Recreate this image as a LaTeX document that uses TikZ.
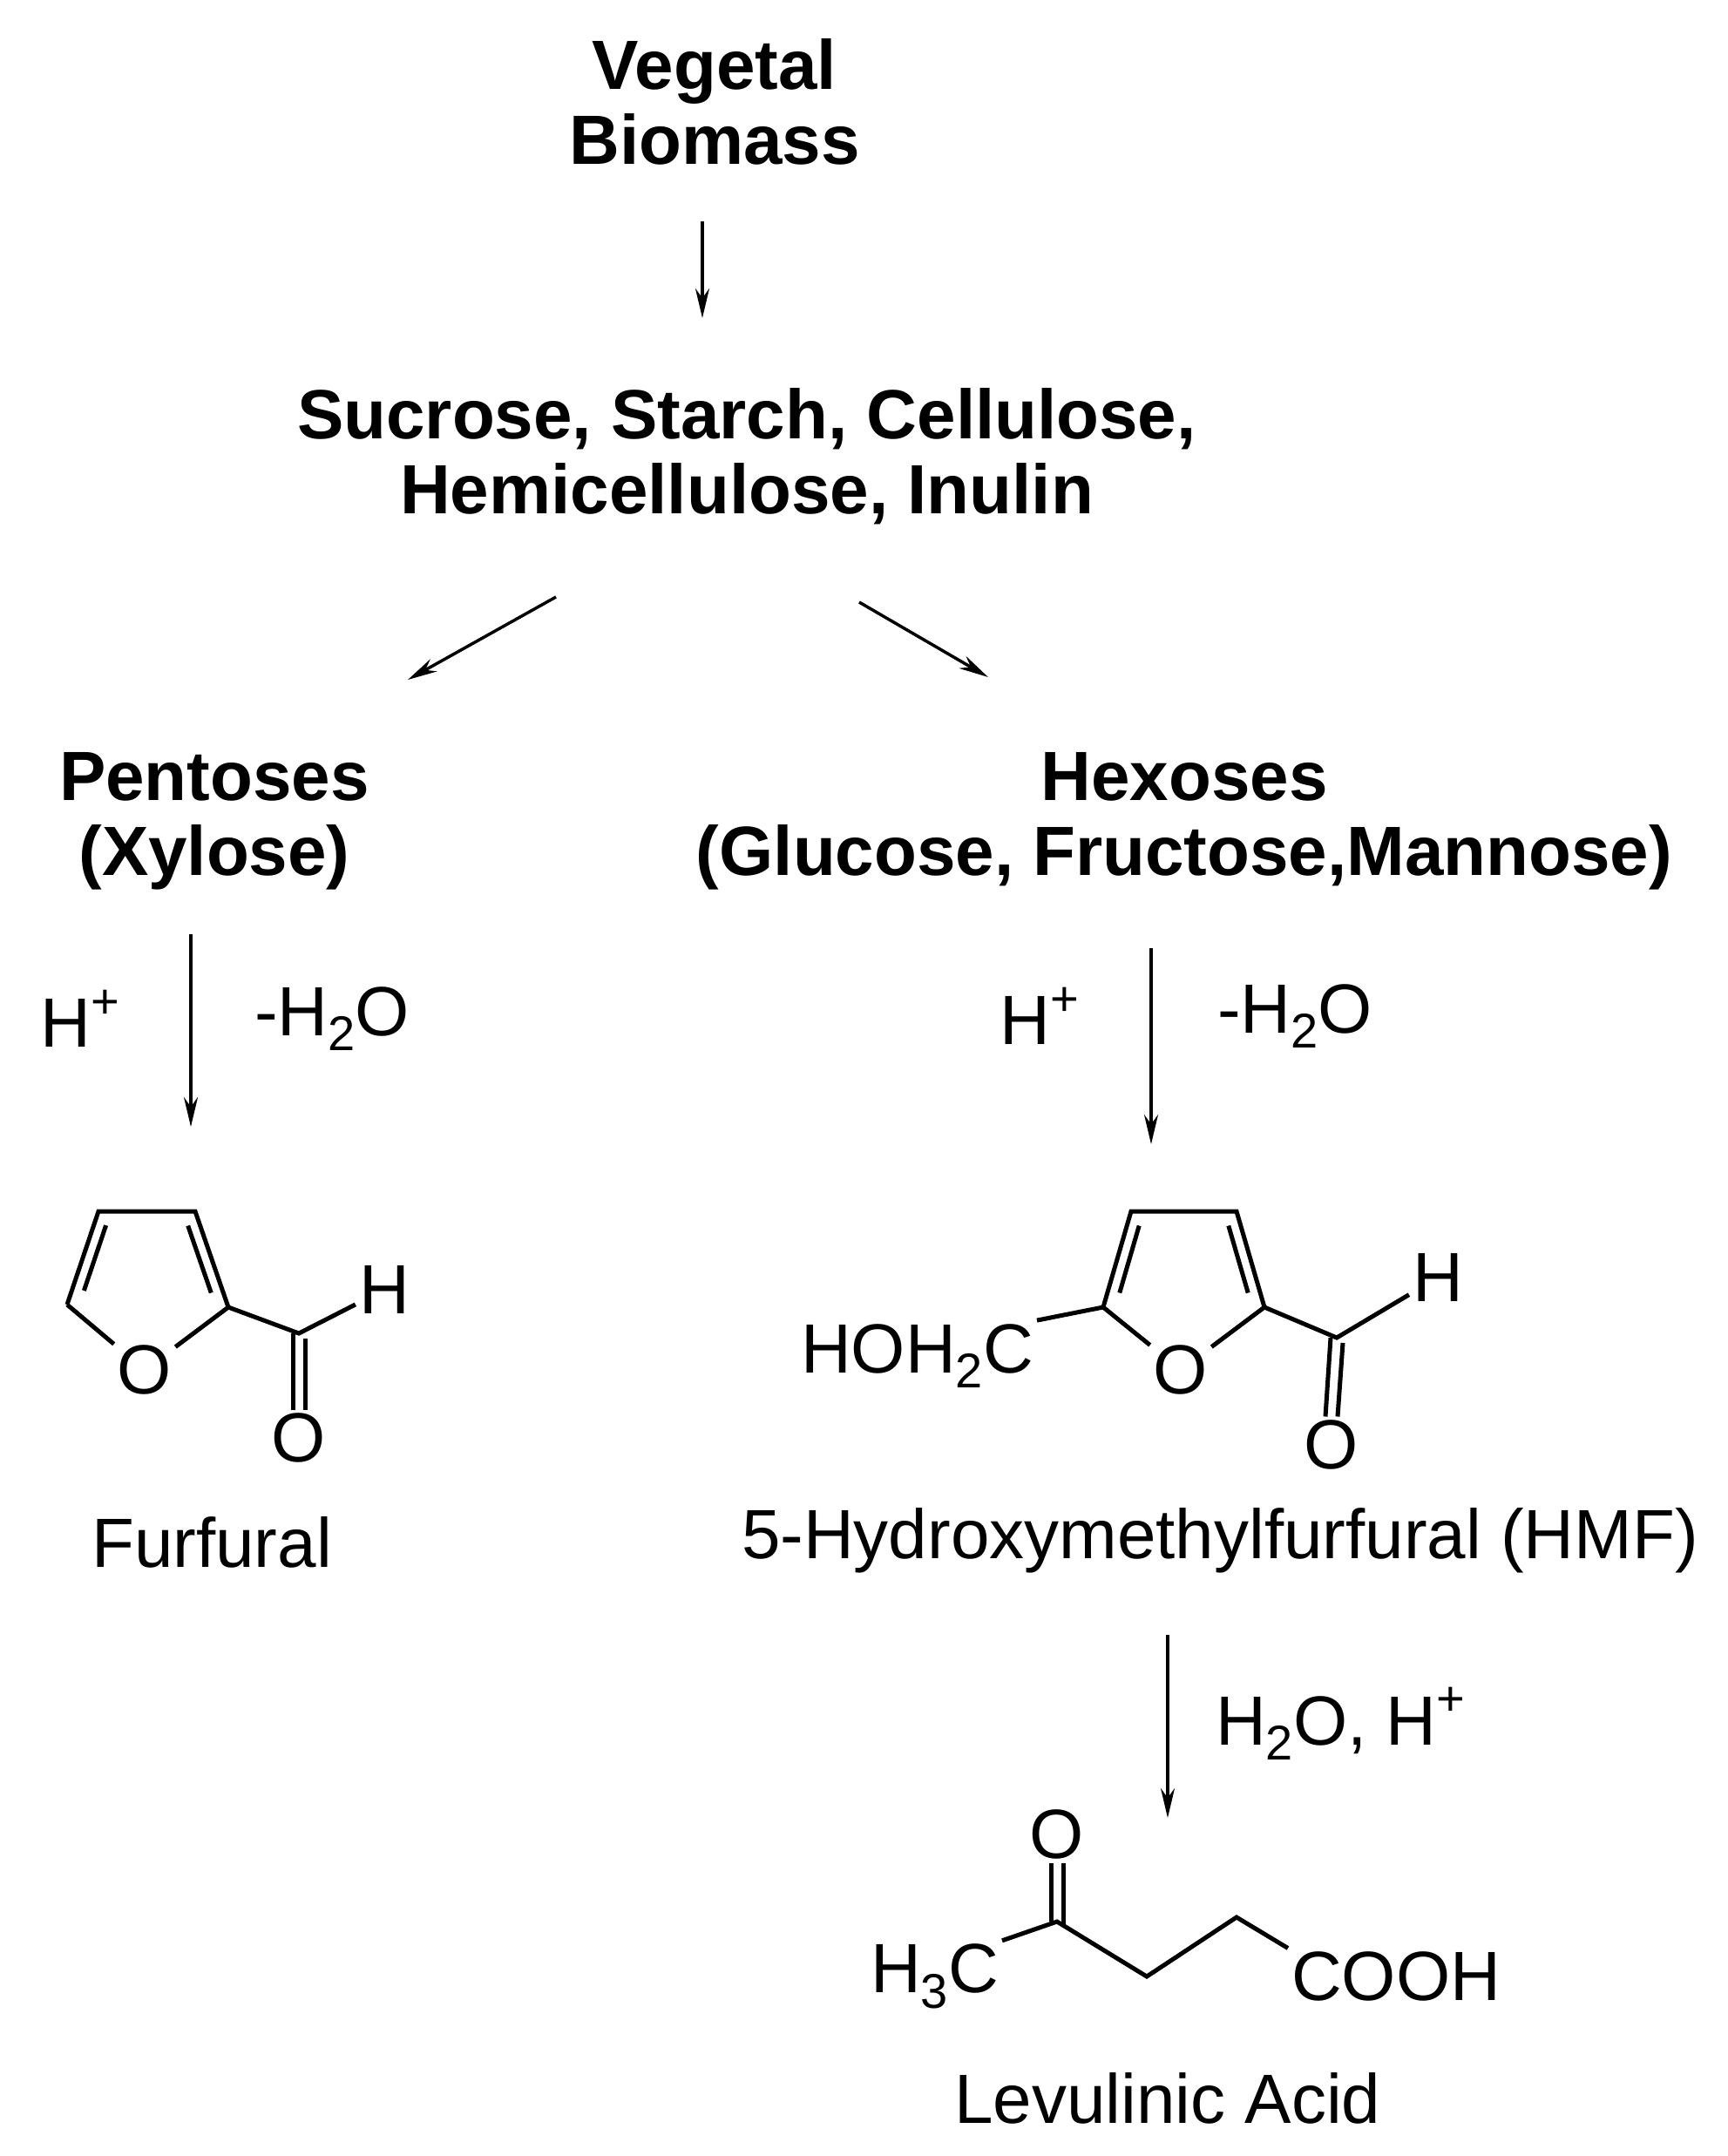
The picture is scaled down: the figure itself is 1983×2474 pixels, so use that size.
\documentclass[tikz,border=0pt]{standalone}
\usepackage{fontspec}
\setmainfont{Liberation Sans}
\usetikzlibrary{arrows.meta,calc}
\newcommand{\mysub}[1]{\raisebox{-0.22em}{\fontsize{56}{56}\selectfont #1}}
\newcommand{\mysup}[1]{\raisebox{0.42em}{\fontsize{56}{56}\selectfont #1}}
\begin{document}
\begin{tikzpicture}[x=1pt,y=-1pt,
  hd/.style={font=\fontsize{80}{86}\selectfont\bfseries,align=center},
  tx/.style={font=\fontsize{80}{90}\selectfont,inner sep=0pt},
  atom/.style={font=\fontsize{80}{90}\selectfont,inner sep=4pt},
  arr/.style={line width=3.5pt,-{Stealth[length=34pt,width=16pt]}},
  bond/.style={line width=5pt}]
\useasboundingbox (0,0) rectangle (1983,2474);
\node[hd] (veg) at (820,117) {Vegetal\\Biomass};
\node[hd] (suc) at (857,524) {Sucrose, Starch, Cellulose,\\Hemicellulose, Inulin};
\node[hd] (pen) at (246,942) {Pentoses\\(Xylose)};
\node[hd] (hex) at (1359,942) {Hexoses\\(Glucose, Fructose,Mannose)};
\coordinate (a1s) at (806,254); \coordinate (a1e) at (806,365);
\draw[arr] (a1s) -- (a1e);
\coordinate (a2s) at (638,685); \coordinate (a2e) at (468,780);
\draw[arr] (a2s) -- (a2e);
\coordinate (a3s) at (986,691); \coordinate (a3e) at (1134,777);
\draw[arr] (a3s) -- (a3e);
% pentoses arrow
\coordinate (a4s) at (219,1072); \coordinate (a4e) at (219,1293);
\draw[arr] (a4s) -- (a4e);
\node[tx] (hp1) at (92,1169) {H\mysup{+}};
\node[tx] (hw1) at (381,1169) {-H\mysub{2}O};
% hexoses arrow
\coordinate (a5s) at (1321,1088); \coordinate (a5e) at (1321,1313);
\draw[arr] (a5s) -- (a5e);
\node[tx] (hp2) at (1193,1166) {H\mysup{+}};
\node[tx] (hw2) at (1486,1166) {-H\mysub{2}O};
% Furfural
\coordinate (f3) at (113,1390); \coordinate (f4) at (224,1390);
\coordinate (f2) at (262,1500); \coordinate (f5) at (77,1497);
\node[atom] (fO) at (166,1572) {O};
\coordinate (fc) at (343,1530);
\node[atom] (fH) at (441,1480) {H};
\node[atom] (fO2) at (343,1650) {O};
\draw[bond] (f5) -- (f3) -- (f4) -- (f2);
\draw[bond] (f5) -- (fO); \draw[bond] (fO) -- (f2);
\draw[bond] ($(f5)!0.15!(f3)+(14,0)$) -- ($(f5)!0.85!(f3)+(14,0)$);
\draw[bond] ($(f2)!0.15!(f4)+(-14,0)$) -- ($(f2)!0.85!(f4)+(-14,0)$);
\draw[bond] (f2) -- (fc) -- (fH);
\draw[bond] ($(fc)+(-7,0)$) -- ($(fO2.north)+(-7,0)$);
\draw[bond] ($(fc)+(7,6)$) -- ($(fO2.north)+(7,0)$);
\node[tx] (furf) at (243,1770) {Furfural};
% HMF
\coordinate (h3) at (1298,1390); \coordinate (h4) at (1419,1390);
\coordinate (h2) at (1451,1500); \coordinate (h5) at (1266,1500);
\node[atom] (hO) at (1355,1572) {O};
\node[atom,anchor=east] (hch) at (1190,1556) {HOH\mysub{2}C};
\coordinate (hc) at (1534,1535);
\node[atom] (hH) at (1650,1466) {H};
\node[atom] (hO2) at (1528,1658) {O};
\draw[bond] (h5) -- (h3) -- (h4) -- (h2);
\draw[bond] (h5) -- (hO); \draw[bond] (hO) -- (h2);
\draw[bond] ($(h5)!0.15!(h3)+(14,0)$) -- ($(h5)!0.85!(h3)+(14,0)$);
\draw[bond] ($(h2)!0.15!(h4)+(-14,0)$) -- ($(h2)!0.85!(h4)+(-14,0)$);
\draw[bond] (h5) -- (hch.north east);
\draw[bond] (h2) -- (hc) -- (hH);
\draw[bond] ($(hc)+(-7,0)$) -- ($(hO2.north)+(-7,0)$);
\draw[bond] ($(hc)+(7,6)$) -- ($(hO2.north)+(7,0)$);
\node[tx] (hmf) at (1400,1768) {5-Hydroxymethylfurfural (HMF)};
% arrow to levulinic
\coordinate (a6s) at (1340,1876); \coordinate (a6e) at (1340,2086);
\draw[arr] (a6s) -- (a6e);
\node[tx,anchor=west] (hw3) at (1395,1978) {H\mysub{2}O, H\mysup{+}};
% Levulinic acid
\node[atom,anchor=east] (lme) at (1150,2268) {H\mysub{3}C};
\coordinate (lk) at (1213,2205);
\node[atom] (lO) at (1213,2105) {O};
\coordinate (lc1) at (1316,2268); \coordinate (lc2) at (1419,2200);
\node[atom,anchor=west] (lco) at (1478,2268) {COOH};
\draw[bond] (lme.north east) -- (lk) -- (lc1) -- (lc2) -- (lco.north west);
\draw[bond] ($(lk)+(-7,0)$) -- ($(lO.south)+(-7,0)$);
\draw[bond] ($(lk)+(7,6)$) -- ($(lO.south)+(7,0)$);
\node[tx] (lev) at (1340,2408) {Levulinic Acid};
\end{tikzpicture}
\end{document}
